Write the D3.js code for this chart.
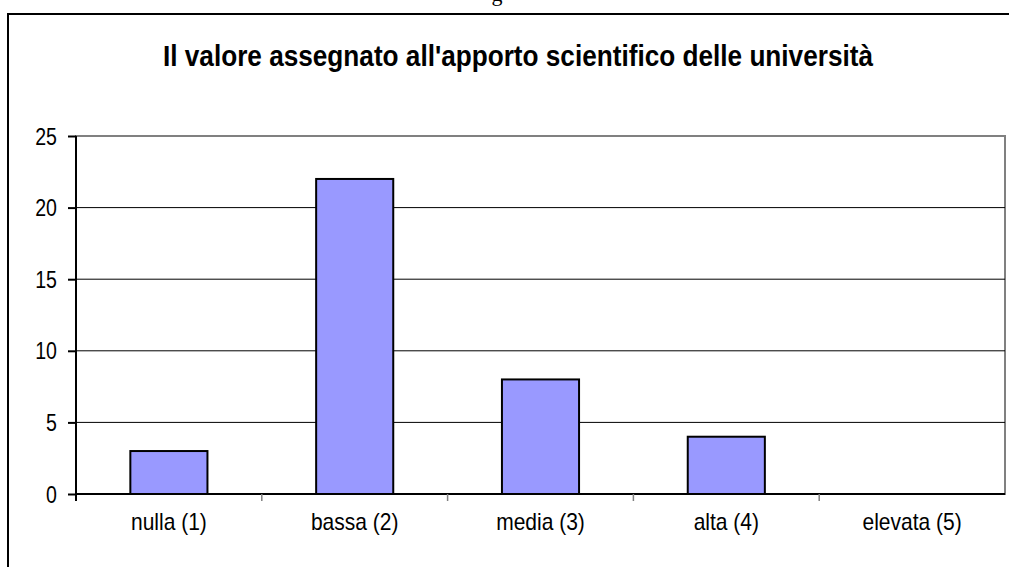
<!DOCTYPE html>
<html><head><meta charset="utf-8">
<script src="https://cdn.jsdelivr.net/npm/d3@7"></script>
<style>
html,body{margin:0;padding:0;background:#fff;}
svg{display:block;}
text{font-family:"Liberation Sans Narrow","Arial Narrow","Liberation Sans",Arial,sans-serif;fill:#000;}
</style></head>
<body>
<svg id="chart" width="1009" height="567"></svg>
<script>
const title = "Il valore assegnato all'apporto scientifico delle università";
const categories = ["nulla (1)", "bassa (2)", "media (3)", "alta (4)", "elevata (5)"];
const values = [3, 22, 8, 4, 0];
const yTicks = [0, 5, 10, 15, 20, 25];

(function () {
const svg = d3.select("#chart");
const W = 1009, H = 567;
const pL = 76, pR = 1005, pT = 136, pB = 494;

// emulate a narrow face by compressing each text horizontally
function narrow(sel, k) {
  sel.each(function () {
    const w = this.getComputedTextLength();
    d3.select(this).attr("textLength", w * k).attr("lengthAdjust", "spacingAndGlyphs");
  });
}

// stray cut-off text from the page above
svg.append("text").attr("x", 497).attr("y", 1).attr("text-anchor", "middle")
  .style("font-family", "'Liberation Serif','Times New Roman',serif").style("font-size", "22px").text("g");

// outer chart border
svg.append("rect").attr("x", 8).attr("y", 14).attr("width", W + 10).attr("height", H + 10)
  .attr("fill", "none").attr("stroke", "#000").attr("stroke-width", 2);

const x = d3.scaleBand().domain(categories).range([pL, pR]).paddingInner(0).paddingOuter(0);
const y = d3.scaleLinear().domain([0, 25]).range([pB, pT]);

// plot area border (gray)
svg.append("rect").attr("x", pL).attr("y", pT).attr("width", pR - pL).attr("height", pB - pT)
  .attr("fill", "none").attr("stroke", "#808080").attr("stroke-width", 2);

// gridlines
svg.append("g").selectAll("line").data(yTicks.filter(d => d > 0 && d < 25)).join("line")
  .attr("x1", pL).attr("x2", pR).attr("y1", d => y(d)).attr("y2", d => y(d))
  .attr("stroke", "#000").attr("stroke-width", 1);

// bars
const bw = x.bandwidth() * 0.415;
svg.append("g").selectAll("rect").data(values).join("rect")
  .attr("x", (d, i) => x(categories[i]) + (x.bandwidth() - bw) / 2)
  .attr("y", d => y(d))
  .attr("width", bw)
  .attr("height", d => y(0) - y(d))
  .attr("fill", "#9999ff").attr("stroke", "#000").attr("stroke-width", 2)
  .style("display", d => d > 0 ? null : "none");

// y axis
const yAxis = d3.axisLeft(y).tickValues(yTicks).tickSize(8).tickPadding(11);
const gy = svg.append("g").attr("transform", `translate(${pL},0)`).call(yAxis);
gy.select(".domain").attr("stroke", "#000").attr("stroke-width", 2).attr("d", `M0,${pT}V${pB + 7}`);
gy.selectAll(".tick line").attr("stroke", "#000").attr("stroke-width", 2);
gy.selectAll(".tick text").style("font-size", "23px").style("font-family", "'Liberation Sans',Arial,sans-serif")
  .attr("fill", "#000").attr("dy", "0.35em");
narrow(gy.selectAll(".tick text"), 0.85);

// x axis
const xAxis = d3.axisBottom(x).tickSize(0).tickPadding(19);
const gx = svg.append("g").attr("transform", `translate(0,${pB})`).call(xAxis);
gx.select(".domain").attr("stroke", "#000").attr("stroke-width", 2).attr("d", `M${pL},0H${pR}`);
gx.selectAll(".tick text").style("font-size", "24px").style("font-family", "'Liberation Sans',Arial,sans-serif").attr("fill", "#000");
narrow(gx.selectAll(".tick text"), 0.875);
// category separator ticks
gx.append("g").selectAll("line").data(categories.slice(1)).join("line")
  .attr("x1", d => x(d)).attr("x2", d => x(d)).attr("y1", 0).attr("y2", 7)
  .attr("stroke", "#808080").attr("stroke-width", 1.5);

// title
const t = svg.append("text").attr("x", 518).attr("y", 66).attr("text-anchor", "middle")
  .style("font-family", "'Liberation Sans',Arial,sans-serif")
  .style("font-size", "30px").style("font-weight", "bold").text(title);
t.attr("textLength", 710).attr("lengthAdjust", "spacingAndGlyphs");
})();
</script>
</body></html>
